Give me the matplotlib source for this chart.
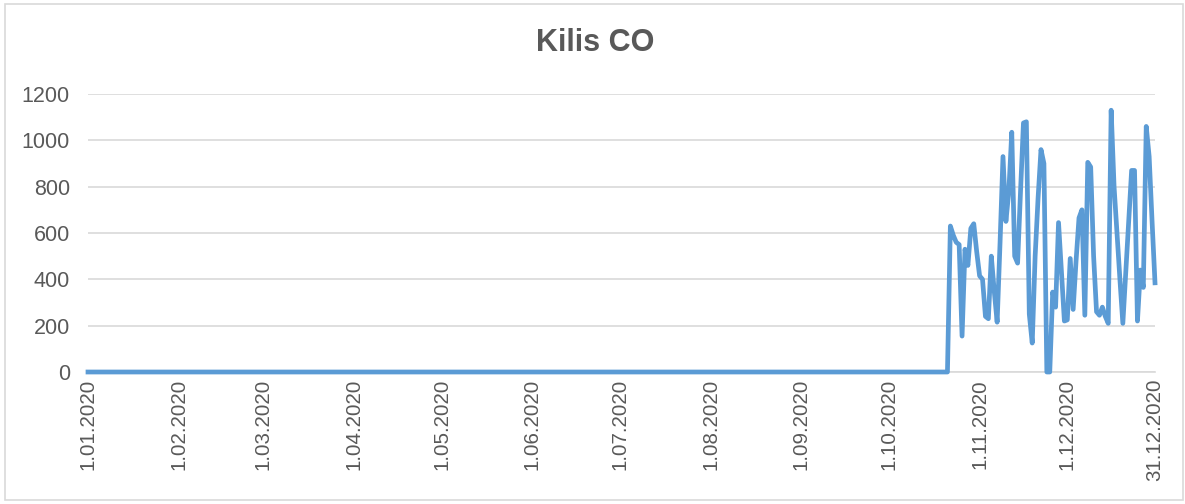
import datetime as dt
import matplotlib
matplotlib.use("Agg")
import matplotlib.pyplot as plt
from matplotlib.patches import Rectangle

plt.rcParams['font.family'] = ['Liberation Sans', 'DejaVu Sans']

title = "Kilis CO"
start = dt.date(2020, 1, 1)

# daily values; flat zero until 21.10.2020, measurements from 22.10.2020
zero_days = 294
measured = [0, 630, 590, 560, 550, 155, 530, 460, 620, 640,
            520, 415, 400, 240, 230, 500, 350, 215, 560, 930,
            650, 780, 1035, 500, 470, 780, 1075, 1080, 250, 125,
            500, 750, 960, 900, 0, 0, 345, 280, 645, 430,
            220, 225, 490, 270, 480, 665, 700, 245, 905, 885,
            500, 260, 245, 280, 240, 210, 1130, 800, 600, 400,
            210, 430, 650, 870, 870, 220, 440, 365, 1060, 930,
            650, 385]
values = [0] * zero_days + measured
dates = [start + dt.timedelta(days=i) for i in range(len(values))]

tick_dates = [dt.date(2020, m, 1) for m in range(1, 13)] + [dt.date(2020, 12, 31)]
tick_labels = [f"{d.day}.{d.month:02d}.{d.year}" for d in tick_dates]
yticks = [0, 200, 400, 600, 800, 1000, 1200]

grey = '#595959'
fig = plt.figure(figsize=(11.85, 5.04), dpi=100)
fig.patches.append(Rectangle((5/1185, 1-500/504), 1178/1185, 496/504,
                             transform=fig.transFigure, fill=False,
                             edgecolor='#d9d9d9', lw=1.2))
ax = fig.add_axes([88/1185, 1-372/504, (1155-88)/1185, (372-94)/504])

ax.plot(dates, values, color='#5b9bd5', lw=3.4, solid_joinstyle='round',
        clip_on=False, zorder=3)

ax.set_xlim(dates[0], dates[-1])
ax.set_ylim(0, 1200)
ax.set_yticks(yticks)
ax.set_xticks(tick_dates)
ax.set_xticklabels(tick_labels, rotation=90, fontsize=14.8, color=grey)
ax.tick_params(axis='y', labelsize=15.5, colors=grey, length=0, pad=13)
ax.tick_params(axis='x', length=0, pad=5)
ax.grid(axis='y', color='#d9d9d9', lw=1.2)
ax.set_axisbelow(True)
for s in ['top', 'right', 'left']:
    ax.spines[s].set_visible(False)
ax.spines['bottom'].set_color('#d9d9d9')
ax.spines['bottom'].set_linewidth(1.2)

fig.text(595/1185, 1-43/504, title, ha='center', va='center',
         fontsize=22, fontweight='bold', color=grey)

fig.savefig('out.png', dpi=100)
